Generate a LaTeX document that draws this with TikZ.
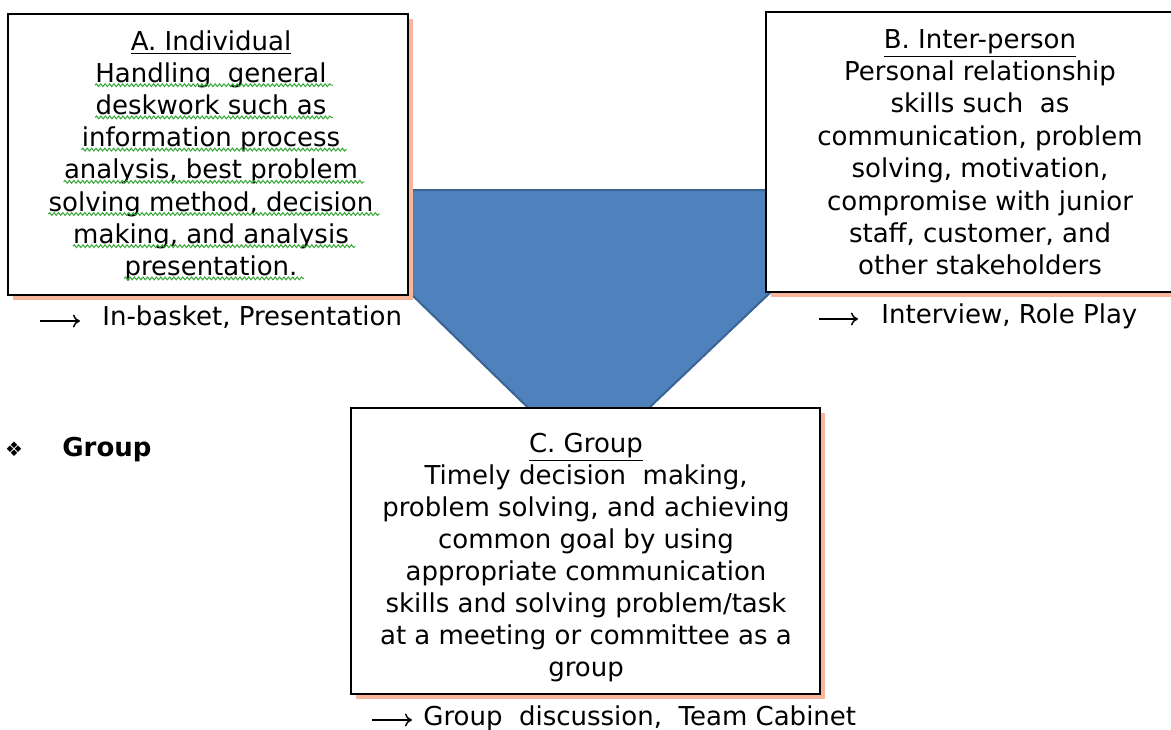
\documentclass[tikz,border=0pt]{standalone}
\usepackage{fontspec}
\setmainfont{DejaVu Sans}
\usetikzlibrary{arrows.meta}
\usetikzlibrary{decorations.pathmorphing}
\usetikzlibrary{shadows}
\usetikzlibrary{positioning}
\definecolor{wedgeblue}{HTML}{4F81BD}
\definecolor{wedgeline}{HTML}{3A6494}
\definecolor{shadowpink}{HTML}{F9B49C}
\definecolor{spellgreen}{HTML}{34A834}
\tikzset{card/.style = {draw = black, line width = 0.9pt, fill = white, inner sep = 0pt,
                        general shadow = {fill = shadowpink, shadow xshift = 2.5pt,
                                          shadow yshift = -2.5pt}},
         txt/.style = {inner sep = 0pt, anchor = base, font = \fontsize{13}{16}\selectfont},
         squiggle/.style = {draw = spellgreen, line width = 0.5pt, decorate,
                            decoration = {snake, amplitude = 0.7pt, segment length = 2.2pt}},
         pointer/.style = {-{To[length = 3.5pt, width = 6.5pt]}, line width = 0.75pt}}

\begin{document}
\begin{tikzpicture}[x = 0.5pt, y = -0.5pt]
      \useasboundingbox (0, 0) rectangle (1171, 729);
      \clip (0, 0) rectangle (1171, 729);
      % blue wedge behind the three boxes
      \draw [fill = wedgeblue, draw = wedgeline, line width = 1pt]
            (304, 190) -- (878, 190) -- (588, 466) -- cycle;
      % boxes
      \node [card, minimum width = 200pt, minimum height = 140.5pt] (boxA) at (208, 154.5) {};
      \node [card, minimum width = 214pt, minimum height = 140pt] (boxB) at (980, 152) {};
      \node [card, minimum width = 234.5pt, minimum height = 143pt] (boxC) at (585.5, 551) {};
      % A. Individual
      \node [txt] (a0) at (211, 50) {\underline{A. Individual}};
      \foreach \words [count = \i] in {{Handling\ \ general}, {deskwork such as},
                                      {information process}, {analysis, best problem},
                                      {solving method, decision}, {making, and analysis},
                                      {presentation.}}
        \node [txt] (a\i) at (211, {50 + 32.2*\i}) {\words};
      \foreach \i in {1, ..., 7}
        \draw [squiggle] ([yshift = -1.5pt] a\i.base west) -- ([yshift = -1.5pt, xshift = 3pt] a\i.base east);
      % B. Inter-person
      \node [txt] (b0) at (980, 48) {\underline{B. Inter-person}};
      \foreach \words [count = \i] in {{Personal relationship}, {skills such\ \ as},
                                      {communication, problem}, {solving, motivation,},
                                      {compromise with junior}, {staff, customer, and},
                                      {other stakeholders}}
        \node [txt] (b\i) at (980, {48 + 32.4*\i}) {\words};
      % C. Group
      \node [txt] (c0) at (586, 452) {\underline{C. Group}};
      \foreach \words [count = \i] in {{Timely decision\ \ making,}, {problem solving, and achieving},
                                      {common goal by using}, {appropriate communication},
                                      {skills and solving problem/task}, {at a meeting or committee as a},
                                      {group}}
        \node [txt] (c\i) at (586, {452 + 32.1*\i}) {\words};
      % methods
      \node [txt, anchor = base west] (labA) at (102, 325) {In-basket, Presentation};
      \node [txt, anchor = base west] (labB) at (881, 323) {Interview, Role Play};
      \node [txt, anchor = base west] (labC) at (423, 725) {Group\ \ discussion,\ \ Team Cabinet};
      \coordinate (tailA) at (40, 321);
      \coordinate (tailB) at (819, 319);
      \coordinate (tailC) at (372, 720);
      \draw [pointer, shorten > = 11pt] (tailA) -- (tailA -| labA.west);
      \draw [pointer, shorten > = 11.5pt] (tailB) -- (tailB -| labB.west);
      \draw [pointer, shorten > = 5.5pt] (tailC) -- (tailC -| labC.west);
      % bullet
      \node [inner sep = 0pt, font = \fontsize{10}{12}\selectfont] (bullet) at (14, 449) {❖};
      \node [txt, anchor = base west, font = \fontsize{13}{16}\selectfont\bfseries] (grp) at (62, 456) {Group};
    \end{tikzpicture}
\end{document}
